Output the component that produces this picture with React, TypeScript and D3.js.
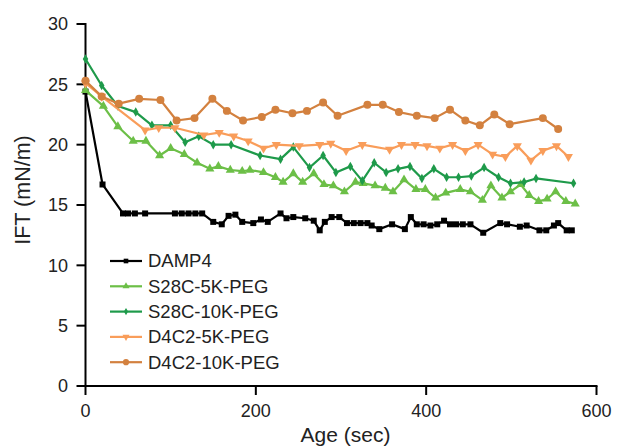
import React from "react";
import * as d3 from "d3";

// DAMP4
const dampAge = [0, 20, 44, 50, 58, 70, 105, 113, 121, 129, 137, 150, 160, 168, 176, 184, 197, 206, 214, 229, 236, 244, 258, 268, 275, 281, 289, 298, 307, 315, 323, 331, 336, 345, 360, 375, 382, 389, 397, 405, 413, 421, 428, 435, 443, 452, 467, 487, 495, 510, 518, 533, 541, 550, 555, 565, 571];
const dampIft = [24.4, 16.7, 14.3, 14.3, 14.3, 14.3, 14.3, 14.3, 14.3, 14.3, 14.3, 13.6, 13.4, 14.1, 14.2, 13.6, 13.5, 13.8, 13.6, 14.3, 13.9, 14.0, 13.9, 13.7, 12.9, 13.6, 14.0, 14.0, 13.5, 13.5, 13.5, 13.5, 13.3, 13.0, 13.4, 13.0, 14.0, 13.4, 13.4, 13.3, 13.4, 13.7, 13.4, 13.4, 13.4, 13.4, 12.7, 13.5, 13.4, 13.2, 13.3, 12.9, 12.9, 13.3, 13.5, 12.9, 12.9];

// S28C-5K-PEG
const s5Age = [0, 21, 38, 56, 71, 87, 100, 116, 131, 146, 156, 170, 184, 193, 209, 223, 232, 244, 255, 268, 280, 291, 304, 317, 326, 340, 352, 361, 374, 388, 399, 411, 423, 440, 452, 466, 476, 489, 499, 511, 521, 532, 542, 552, 564, 575];
const s5Ift = [24.5, 23.2, 21.5, 20.3, 20.3, 19.1, 19.7, 19.2, 18.5, 18.0, 18.2, 17.9, 17.8, 17.9, 17.7, 17.3, 16.9, 17.6, 16.9, 17.6, 16.7, 16.6, 16.1, 16.9, 16.8, 16.6, 16.4, 16.1, 17.1, 16.3, 16.3, 15.6, 16.0, 16.3, 16.1, 15.4, 16.6, 15.6, 16.1, 16.7, 15.8, 15.3, 15.5, 16.1, 15.3, 15.1];

// S28C-10K-PEG
const s10Age = [0, 19, 38, 59, 78, 100, 117, 133, 150, 171, 205, 229, 244, 263, 279, 294, 311, 325, 339, 353, 367, 381, 395, 409, 424, 438, 453, 468, 485, 499, 515, 529, 573];
const s10Ift = [27.1, 24.9, 23.2, 22.7, 21.6, 21.6, 20.2, 20.7, 20.0, 20.0, 19.1, 18.8, 19.8, 18.1, 19.1, 17.7, 18.2, 17.0, 18.5, 17.7, 18.0, 18.2, 17.2, 18.0, 17.3, 17.3, 17.4, 18.1, 17.3, 16.8, 16.9, 17.2, 16.8];

// D4C2-5K-PEG
const d5Age = [0, 19, 70, 86, 105, 139, 157, 174, 191, 209, 224, 251, 275, 288, 306, 325, 357, 371, 387, 401, 416, 431, 446, 461, 478, 493, 507, 523, 537, 553, 567];
const d5Ift = [25.1, 24.0, 21.2, 21.4, 21.4, 20.8, 21.0, 20.7, 20.3, 19.7, 20.0, 19.9, 20.0, 20.1, 19.5, 20.0, 19.6, 20.0, 20.0, 19.9, 19.7, 20.0, 19.5, 20.0, 19.2, 19.0, 19.9, 18.7, 19.5, 19.9, 19.0];

// D4C2-10K-PEG
const d10Age = [0, 19, 39, 63, 88, 107, 128, 149, 166, 185, 207, 223, 243, 260, 279, 296, 331, 349, 368, 389, 410, 428, 446, 463, 480, 498, 537, 555];
const d10Ift = [25.3, 24.0, 23.4, 23.8, 23.7, 22.0, 22.2, 23.8, 22.8, 22.0, 22.3, 22.9, 22.6, 22.8, 23.5, 22.4, 23.3, 23.3, 22.7, 22.4, 22.2, 22.9, 22.0, 21.6, 22.5, 21.7, 22.2, 21.3];

const seriesNames = ["DAMP4", "S28C-5K-PEG", "S28C-10K-PEG", "D4C2-5K-PEG", "D4C2-10K-PEG"];
const xTicks = [0, 200, 400, 600];
const yTicks = [0, 5, 10, 15, 20, 25, 30];

const series = [
  { name: seriesNames[0], ages: dampAge, vals: dampIft, color: "#000000", symbol: d3.symbolSquare, size: 36 },
  { name: seriesNames[1], ages: s5Age, vals: s5Ift, color: "#6cbf47", symbol: d3.symbolTriangle, size: 36 },
  { name: seriesNames[2], ages: s10Age, vals: s10Ift, color: "#1e9a4a", symbol: d3.symbolDiamond, size: 26 },
  { name: seriesNames[3], ages: d5Age, vals: d5Ift, color: "#f99d5a", symbol: d3.symbolTriangle, size: 36, flip: true },
  { name: seriesNames[4], ages: d10Age, vals: d10Ift, color: "#d3813f", symbol: d3.symbolCircle, size: 50 },
];

export default function App() {
  const width = 617;
  const height = 447;
  const x = d3.scaleLinear().domain([0, 600]).range([85.5, 596.5]);
  const y = d3.scaleLinear().domain([0, 30]).range([386, 24]);
  const font = "'Liberation Sans', Arial, sans-serif";
  const ink = "#222";

  return (
    <div style={{ position: "absolute", left: 0, top: 0 }}>
      <svg width={width} height={height} style={{ display: "block", fontFamily: font }}>
        {/* axes */}
        <line x1={x(0)} x2={x(0)} y1={y(30) - 1} y2={y(0) + 1} stroke="#000" strokeWidth={2} />
        <line x1={x(0) - 1} x2={x(600) + 1} y1={y(0)} y2={y(0)} stroke="#000" strokeWidth={2} />
        {yTicks.map((t) => (
          <g key={"y" + t} transform={`translate(0,${y(t)})`}>
            <line x1={x(0) - 9} x2={x(0)} stroke="#000" strokeWidth={2} />
            <text x={68} dy="0.35em" textAnchor="end" fontSize={18} fill={ink}>
              {t}
            </text>
          </g>
        ))}
        {xTicks.map((t) => (
          <g key={"x" + t} transform={`translate(${x(t)},0)`}>
            <line y1={y(0)} y2={y(0) + 9} stroke="#000" strokeWidth={2} />
            <text y={416.5} textAnchor="middle" fontSize={18} fill={ink}>
              {t}
            </text>
          </g>
        ))}
        <text x={345.5} y={442} textAnchor="middle" fontSize={21} fill={ink}>
          Age (sec)
        </text>
        <text transform="translate(30,190) rotate(-90)" textAnchor="middle" fontSize={21.5} fill={ink}>
          IFT (mN/m)
        </text>

        {/* lines */}
        {series.map((s) => {
          const pts = s.ages.map((a, i) => [a, s.vals[i]] as [number, number]);
          const path = d3.line<[number, number]>().x((d) => x(d[0])).y((d) => y(d[1]))(pts);
          const sym = d3.symbol().type(s.symbol).size(s.size)();
          return (
            <g key={s.name}>
              <path d={path || ""} fill="none" stroke={s.color} strokeWidth={2.2} strokeLinejoin="round" />
              {pts.map((p, i) => (
                <path
                  key={i}
                  d={sym || ""}
                  fill={s.color}
                  transform={`translate(${x(p[0])},${y(p[1])})${s.flip ? " rotate(180)" : ""}`}
                />
              ))}
            </g>
          );
        })}

        {/* legend */}
        {series.map((s, i) => {
          const ly = 261 + i * 25.3;
          const sym = d3.symbol().type(s.symbol).size(s.size * 0.6)();
          return (
            <g key={"lg" + s.name} transform={`translate(0,${ly})`}>
              <line x1={110} x2={142} stroke={s.color} strokeWidth={2.2} />
              <path d={sym || ""} fill={s.color} transform={`translate(126,0)${s.flip ? " rotate(180)" : ""}`} />
              <text x={148} dy="0.35em" fontSize={18.5} fill={ink}>
                {s.name}
              </text>
            </g>
          );
        })}
      </svg>
    </div>
  );
}
